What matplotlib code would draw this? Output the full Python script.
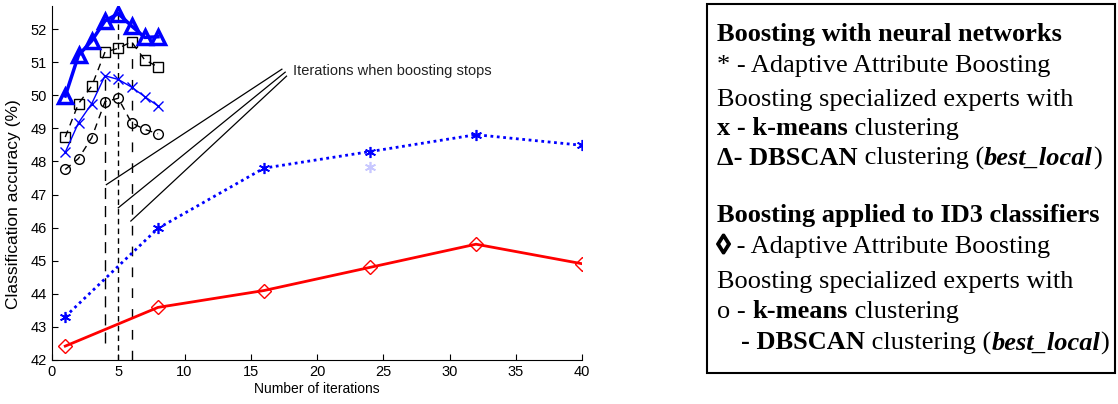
import matplotlib
matplotlib.use("Agg")
from matplotlib import pyplot as plt
from matplotlib import patheffects
from matplotlib.patches import Rectangle

plt.rcParams['font.family'] = ['Liberation Sans', 'DejaVu Sans']

# iterations 1..8 (premieres iterations, zoom)
iterCourt = [1, 2, 3, 4, 5, 6, 7, 8]
dbscanRN = [49.98, 51.21, 51.65, 52.25, 52.47, 52.10, 51.75, 51.77]
kmeansRN = [48.28, 49.17, 49.75, 50.59, 50.48, 50.25, 49.96, 49.68]
dbscanID3 = [48.74, 49.75, 50.28, 51.31, 51.42, 51.62, 51.07, 50.86]
kmeansID3 = [47.76, 48.09, 48.72, 49.81, 49.91, 49.17, 48.97, 48.84]

# iterations 1..40 (boosting par attributs)
iterLong = [1, 8, 16, 24, 32, 40]
aabRN = [43.31, 45.98, 47.80, 48.30, 48.81, 48.49]
aabID3 = [42.42, 43.59, 44.10, 44.80, 45.50, 44.91]
pointPale = ([24], [47.82])

# arret du boosting
arretX = [4, 5, 6]
arretBas = [42.5, 42.0, 42.0]
arretHaut = [50.59, 52.47, 51.62]
arretDash = [(8, 5), (4, 3), (7, 8)]
flecheFin = [(4.1, 47.3), (5.0, 46.6), (5.95, 46.2)]
flecheDebut = [(17.35, 50.79), (17.6, 50.7), (17.7, 50.58)]

fig = plt.figure(figsize=(11.18, 4.04), dpi=100)
ax = fig.add_axes([52 / 1118, 44 / 404, 530 / 1118, 354 / 404])

for x, b, h, d in zip(arretX, arretBas, arretHaut, arretDash):
    ax.plot([x, x], [b, h], color='black', linewidth=1, dashes=d)

ax.plot(iterLong, aabID3, color='red', linewidth=2, marker='D', markersize=7,
        markerfacecolor='none', markeredgecolor='red', markeredgewidth=1)
ax.plot(iterLong, aabRN, color='blue', linewidth=2, linestyle=(0, (1, 1.3)),
        marker=(6, 2, 0), markersize=8, markeredgewidth=1.2)
ax.plot(pointPale[0], pointPale[1], linestyle='none', marker=(6, 2, 0),
        markersize=8, markeredgewidth=1.2, color='#c8c8ff')

ax.plot(iterCourt, kmeansID3, color='black', linewidth=1, dashes=(5, 4),
        marker='o', markersize=7, markerfacecolor='none', markeredgewidth=1)
ax.plot(iterCourt, dbscanID3, color='black', linewidth=1, dashes=(5, 4),
        marker='s', markersize=7, markerfacecolor='none', markeredgewidth=1)
ax.plot(iterCourt, kmeansRN, color='blue', linewidth=1,
        marker='x', markersize=7.5, markeredgewidth=1)
ax.plot(iterCourt, dbscanRN, color='blue', linewidth=2.5,
        marker='^', markersize=10, markerfacecolor='none', markeredgewidth=2.5)

for (x0, y0), (x1, y1) in zip(flecheDebut, flecheFin):
    ax.plot([x0, x1], [y0, y1], color='black', linewidth=0.9)
ax.text(18.2, 50.73, 'Iterations when boosting stops', fontsize=10.5,
        va='center', ha='left', color='#222222')

ax.set_xlim(0, 40)
ax.set_ylim(42, 52.7)
ax.set_xticks(range(0, 41, 5))
ax.set_yticks(range(42, 53))
ax.tick_params(direction='in', labelsize=10.5, length=4)
ax.spines['top'].set_visible(False)
ax.spines['right'].set_visible(False)
ax.set_xlabel('Number of iterations', fontsize=10, labelpad=2)
ax.set_ylabel('Classification accuracy (%)', fontsize=12.5)
ax.yaxis.set_label_coords(-0.058, 0.44)

# cadre de legende
fig.patches.append(Rectangle((707 / 1118, 1 - 373 / 404), 408 / 1118, 369 / 404,
                             transform=fig.transFigure, fill=False,
                             edgecolor='black', linewidth=1.5))

lignes = [
    (717, 40.7, [('Boosting with neural networks', 'bold', 'normal')]),
    (717, 71.7, [('* - Adaptive Attribute Boosting', 'normal', 'normal')]),
    (717, 106, [('Boosting specialized experts with', 'normal', 'normal')]),
    (717, 135, [('x - k-means', 'bold', 'normal'), (' clustering', 'normal', 'normal')]),
    (717, 165, [('\u0394- DBSCAN', 'bold', 'normal'), (' clustering (', 'normal', 'normal'),
                ('best_local', 'bold', 'italic'), (')', 'normal', 'normal')]),
    (717, 221.7, [('Boosting applied to ID3 classifiers', 'bold', 'normal')]),
    (717, 253.3, [('\u25ca', 'bold', 'epais'), (' - Adaptive Attribute Boosting', 'normal', 'normal')]),
    (717, 288.3, [('Boosting specialized experts with', 'normal', 'normal')]),
    (717, 318.3, [('o - ', 'normal', 'normal'), ('k-means', 'bold', 'normal'),
                  (' clustering', 'normal', 'normal')]),
    (741, 349.3, [('- DBSCAN', 'bold', 'normal'), (' clustering (', 'normal', 'normal'),
                  ('best_local', 'bold', 'italic'), (')', 'normal', 'normal')]),
]

fig.canvas.draw()
renderer = fig.canvas.get_renderer()
for x, y, morceaux in lignes:
    px = x
    for texte, poids, style in morceaux:
        effets = []
        if style == 'epais':
            style = 'normal'
            effets = [patheffects.withStroke(linewidth=1.6, foreground='black')]
        t = fig.text(px / 1118, 1 - y / 404, texte, fontsize=19,
                     family=['Liberation Serif', 'DejaVu Serif'],
                     weight=poids, style=style, va='baseline', ha='left',
                     path_effects=effets)
        px += t.get_window_extent(renderer).width

fig.savefig('out.png', dpi=100)
